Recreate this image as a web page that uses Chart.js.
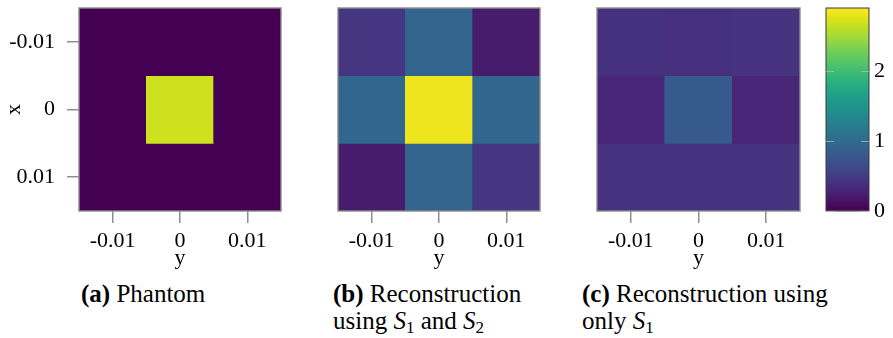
<!DOCTYPE html>
<html>
<head>
<meta charset="utf-8">
<script src="https://cdn.jsdelivr.net/npm/chart.js@4"></script>
<style>
  html, body { margin: 0; padding: 0; background: #fff; overflow: hidden; }
  #wrap { position: relative; width: 893px; height: 338px; }
  canvas { position: absolute; top: 0; }
  .cap { position: absolute; font-family: "Liberation Serif", "DejaVu Serif", serif; font-size: 25px; line-height: 27px; color: #000; white-space: nowrap; }
  .cap sub { font-size: 0.68em; vertical-align: -0.22em; line-height: 0; }
</style>
</head>
<body>
<div id="wrap">
  <canvas id="ca" width="300" height="275" style="left:0px"></canvas>
  <canvas id="cb" width="260" height="275" style="left:300px"></canvas>
  <canvas id="cc" width="260" height="275" style="left:560px"></canvas>
  <canvas id="cbar" width="73" height="275" style="left:820px"></canvas>
  <div class="cap" style="left:81px;top:280px"><b>(a)</b> Phantom</div>
  <div class="cap" style="left:333px;top:280px"><b>(b)</b> Reconstruction<br>using <i>S</i><sub>1</sub> and <i>S</i><sub>2</sub></div>
  <div class="cap" style="left:582px;top:280px"><b>(c)</b> Reconstruction using<br>only <i>S</i><sub>1</sub></div>
</div>
<script>
// ---- data ----
const rowCenters = [-0.01, 0, 0.01];     // "x" coordinate of each row (vertical axis, top to bottom)
const colCenters = [-0.01, 0, 0.01];     // "y" coordinate of each column (horizontal axis)
const cellSize = 0.01;
const axisMin = -0.015;
const axisMax = 0.015;
const tickValues = [-0.01, 0, 0.01];
const tickLabels = ['-0.01', '0', '0.01'];
const phantom   = [[0, 0, 0], [0, 2.68, 0], [0, 0, 0]];
const reconS1S2 = [[0.45, 0.93, 0.22], [0.96, 2.83, 0.96], [0.22, 0.93, 0.45]];
const reconS1   = [[0.41, 0.40, 0.42], [0.30, 0.81, 0.30], [0.42, 0.42, 0.43]];
const colorMin = 0;
const colorMax = 2.9;
const colorTicks = [0, 1, 2];
const colorTickLabels = ['0', '1', '2'];

// ---- viridis colormap ----
const VIRIDIS = ['#440154','#471365','#482475','#463480','#414487','#3b528b','#355f8d','#2f6c8e','#2a788e','#25848e','#21918c','#1e9c89','#22a884','#2fb47c','#44bf70','#5ec962','#7ad151','#9bd93c','#bddf26','#dfe318','#fde725'];
function hexToRgb(h) { return [parseInt(h.slice(1,3),16), parseInt(h.slice(3,5),16), parseInt(h.slice(5,7),16)]; }
const VRGB = VIRIDIS.map(hexToRgb);
function viridis(t) {
  t = Math.max(0, Math.min(1, t));
  const f = t * (VRGB.length - 1);
  const i = Math.min(VRGB.length - 2, Math.floor(f));
  const u = f - i;
  const a = VRGB[i], b = VRGB[i + 1];
  const c = a.map((v, k) => Math.round(v + (b[k] - v) * u));
  return 'rgb(' + c.join(',') + ')';
}
function colorOf(v) { return viridis((v - colorMin) / (colorMax - colorMin)); }

Chart.defaults.font.family = '"Liberation Serif", "DejaVu Serif", serif';
Chart.defaults.font.size = 22;
Chart.defaults.color = '#000';

const framePlugin = {
  id: 'frame',
  afterDatasetsDraw(chart, args, opts) {
    const { ctx, chartArea: a } = chart;
    ctx.save();
    ctx.strokeStyle = opts.color || '#888';
    ctx.lineWidth = opts.width || 1;
    ctx.strokeRect(a.left, a.top, a.right - a.left, a.bottom - a.top);
    ctx.restore();
  }
};

function zeroPad(scale) {
  scale.paddingTop = 0; scale.paddingBottom = 0; scale.paddingLeft = 0; scale.paddingRight = 0;
}
function setTicks(values) {
  return function (scale) { scale.ticks = values.map(v => ({ value: v })); };
}

const tickGray = '#8f8f8f';

function makeHeatmap(canvasId, grid, showLeftAxis, padLeft, padRight) {
  const datasets = grid.map((row, i) => ({
    data: colCenters.map((c) => ({ x: c, y: [rowCenters[i] - cellSize / 2, rowCenters[i] + cellSize / 2] })),
    backgroundColor: row.map(colorOf),
    borderWidth: 0,
    barPercentage: 1,
    categoryPercentage: 1,
    grouped: false
  }));
  return new Chart(document.getElementById(canvasId), {
    type: 'bar',
    data: { datasets },
    plugins: [framePlugin],
    options: {
      responsive: false,
      animation: false,
      layout: { padding: { left: padLeft, right: padRight, top: 8, bottom: 0 } },
      plugins: {
        legend: { display: false },
        tooltip: { enabled: false },
        frame: { color: 'rgba(140,140,140,0.95)', width: 1.5 }
      },
      scales: {
        x: {
          type: 'linear',
          min: axisMin, max: axisMax,
          offset: false,
          afterBuildTicks: setTicks(tickValues),
          afterFit: (s) => { s.height = 64; zeroPad(s); },
          grid: { offset: false, drawOnChartArea: false, drawTicks: true, tickLength: 12, color: tickGray, lineWidth: 1.5 },
          border: { display: false },
          ticks: { padding: 5, maxRotation: 0, autoSkip: false, callback: (v, i) => tickLabels[i] },
          title: { display: true, text: 'y', padding: { top: 0, bottom: 4 } }
        },
        y: {
          type: 'linear',
          display: showLeftAxis,
          reverse: true,
          min: axisMin, max: axisMax,
          afterBuildTicks: setTicks(tickValues),
          afterFit: (s) => { s.width = showLeftAxis ? 79 : 0; zeroPad(s); },
          grid: { drawOnChartArea: false, drawTicks: true, tickLength: 12, color: tickGray, lineWidth: 1.5 },
          border: { display: false },
          ticks: { padding: 12, autoSkip: false, callback: (v, i) => tickLabels[i] },
          title: { display: true, text: 'x', padding: { top: 1, bottom: 0 } }
        }
      }
    }
  });
}

makeHeatmap('ca', phantom, true, 0, 19);
makeHeatmap('cb', reconS1S2, false, 38, 20);
makeHeatmap('cc', reconS1, false, 37, 20);

// ---- colorbar ----
new Chart(document.getElementById('cbar'), {
  type: 'bar',
  data: {
    labels: [''],
    datasets: [{
      data: [[colorMin, colorMax]],
      borderWidth: 0,
      barPercentage: 1,
      categoryPercentage: 1,
      backgroundColor: (context) => {
        const chart = context.chart;
        const { ctx, chartArea } = chart;
        if (!chartArea) return VIRIDIS[0];
        const ys = chart.scales.y;
        const g = ctx.createLinearGradient(0, ys.getPixelForValue(colorMin), 0, ys.getPixelForValue(colorMax));
        VIRIDIS.forEach((c, i) => g.addColorStop(i / (VIRIDIS.length - 1), c));
        return g;
      }
    }]
  },
  plugins: [framePlugin],
  options: {
    responsive: false,
    animation: false,
    layout: { padding: { left: 6, right: 0, top: 8, bottom: 64 } },
    plugins: {
      legend: { display: false },
      tooltip: { enabled: false },
      frame: { color: '#3a3a3a', width: 1 }
    },
    scales: {
      x: { display: false },
      y: {
        position: 'right',
        min: colorMin, max: colorMax,
        afterBuildTicks: setTicks(colorTicks),
        afterFit: (s) => { s.width = 24; zeroPad(s); },
        grid: { drawOnChartArea: true, drawTicks: false, color: 'rgba(185,185,185,0.75)', lineWidth: 1, z: 1 },
        border: { display: false, dash: [8, 27] },
        ticks: { padding: 5, autoSkip: false, callback: (v, i) => colorTickLabels[i] }
      }
    }
  }
});
</script>
</body>
</html>
